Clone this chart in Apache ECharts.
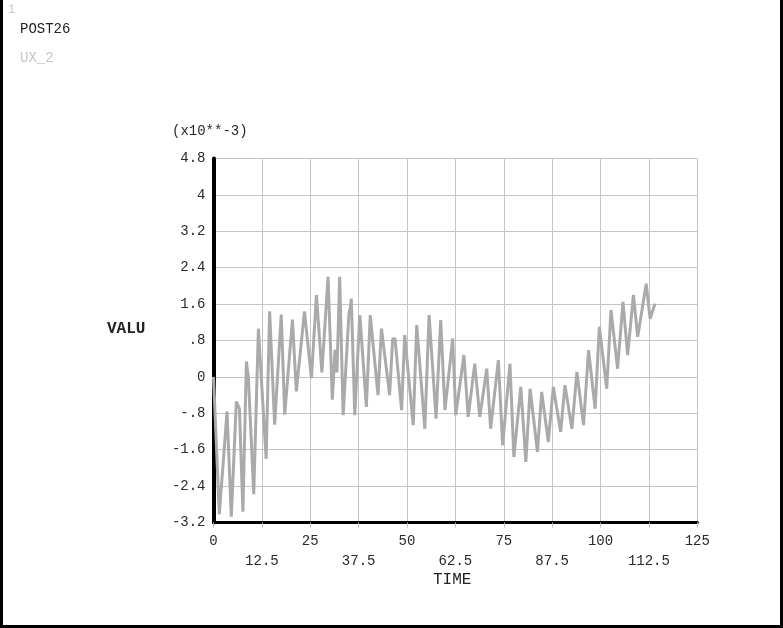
<!DOCTYPE html>
<html>
<head>
<meta charset="utf-8">
<script src="https://cdn.jsdelivr.net/npm/echarts@6/dist/echarts.min.js"></script>
<style>html,body{margin:0;padding:0;background:#fff;}#c{width:783px;height:628px;}</style>
</head>
<body>
<div id="c"></div>
<script>
// time values (x axis, TIME)
var time = [0, 0.3, 1.5, 3.5, 4.6, 5.9, 6.7, 7.6, 8.5, 9.0, 10.4, 11.6, 13.6, 14.5, 15.8, 17.5, 18.4, 20.4, 21.4, 23.5, 25.3, 26.6, 28.0, 29.6, 30.7, 31.4, 31.9, 32.6, 33.5, 35.0, 35.3, 35.6, 36.5, 37.8, 39.5, 40.5, 42.5, 43.4, 45.5, 46.3, 46.9, 48.6, 49.4, 51.6, 52.5, 54.6, 55.7, 57.5, 58.7, 59.8, 61.8, 62.6, 64.7, 65.8, 67.5, 68.8, 70.6, 71.6, 73.6, 74.7, 76.6, 77.6, 79.4, 80.7, 81.8, 83.7, 84.8, 86.5, 87.8, 89.7, 90.8, 92.6, 93.9, 95.6, 96.9, 98.6, 99.7, 101.6, 102.7, 104.4, 105.8, 107.0, 108.5, 109.6, 111.8, 112.8, 114.1];
// UX_2 values (x10**-3)
var ux2 = [0, -0.6, -3.02, -0.76, -3.07, -0.54, -0.7, -2.96, 0.34, 0.0, -2.58, 1.06, -1.8, 1.44, -1.05, 1.37, -0.83, 1.26, -0.32, 1.44, -0.03, 1.8, 0.1, 2.2, -0.5, 0.6, 0.1, 2.2, -0.84, 1.4, 1.5, 1.72, -0.84, 1.36, -0.66, 1.36, -0.4, 1.06, -0.4, 0.84, 0.84, -0.73, 0.92, -1.06, 1.14, -1.14, 1.36, -0.92, 1.25, -0.73, 0.84, -0.84, 0.48, -0.88, 0.29, -0.88, 0.18, -1.14, 0.37, -1.5, 0.29, -1.76, -0.22, -1.87, -0.26, -1.65, -0.33, -1.43, -0.22, -1.21, -0.18, -1.14, 0.11, -1.06, 0.59, -0.7, 1.1, -0.26, 1.47, 0.18, 1.65, 0.48, 1.8, 0.88, 2.05, 1.28, 1.61];
// tick labels
var xLabels = ['0', '12.5', '25', '37.5', '50', '62.5', '75', '87.5', '100', '112.5', '125'];
var yLabels = ['-3.2', '-2.4', '-1.6', '-.8', '0', '.8', '1.6', '2.4', '3.2', '4', '4.8'];

var FONT = "'Liberation Mono', 'DejaVu Sans Mono', monospace";
var chart = echarts.init(document.getElementById('c'), null, {renderer: 'canvas'});
var data = time.map(function (t, i) { return [t, ux2[i]]; });

chart.setOption({
  animation: false,
  backgroundColor: '#ffffff',
  grid: {left: 213.5, right: 85.7, top: 158.5, bottom: 105.5, containLabel: false},
  xAxis: {
    type: 'value', min: 0, max: 125, interval: 12.5,
    axisLine: {show: true, onZero: false, lineStyle: {color: '#000', width: 3}},
    axisTick: {show: true, length: 5, lineStyle: {color: '#b8b8b8', width: 1}},
    splitLine: {show: true, lineStyle: {color: '#c4c4c4', width: 1}},
    axisLabel: {
      margin: 9, fontFamily: FONT, fontSize: 14, color: '#2a2a2a', lineHeight: 20,
      showMinLabel: true, showMaxLabel: true,
      formatter: function (v) {
        var i = Math.round(v / 12.5);
        return (i % 2 === 1) ? '\n' + xLabels[i] : xLabels[i];
      }
    }
  },
  yAxis: {
    type: 'value', min: -3.2, max: 4.8, interval: 0.8,
    axisLine: {show: true, onZero: false, lineStyle: {color: '#000', width: 4}},
    axisTick: {show: false},
    splitLine: {show: true, lineStyle: {color: '#c4c4c4', width: 1}},
    axisLabel: {
      margin: 8, fontFamily: FONT, fontSize: 14, color: '#2a2a2a',
      showMinLabel: true, showMaxLabel: true,
      formatter: function (v) { return yLabels[Math.round((v + 3.2) / 0.8)]; }
    }
  },
  series: [{
    type: 'line', data: data, showSymbol: false, symbol: 'none',
    lineStyle: {color: '#aaaaaa', width: 3}, z: 1
  }],
  graphic: [
    {type: 'rect', shape: {x: 0, y: 0, width: 3, height: 628}, style: {fill: '#000'}},
    {type: 'rect', shape: {x: 780, y: 0, width: 3, height: 628}, style: {fill: '#000'}},
    {type: 'rect', shape: {x: 0, y: 625, width: 783, height: 3}, style: {fill: '#000'}},
    {type: 'text', left: 8, top: 4, style: {text: '1', font: "12px " + FONT, fill: '#c8c8c8'}},
    {type: 'text', left: 20, top: 22, style: {text: 'POST26', font: "14px " + FONT, fill: '#222'}},
    {type: 'text', left: 20, top: 51, style: {text: 'UX_2', font: "14px " + FONT, fill: '#c4c4c4'}},
    {type: 'text', left: 172, top: 124, style: {text: '(x10**-3)', font: "14px " + FONT, fill: '#2a2a2a'}},
    {type: 'text', left: 107, top: 321, style: {text: 'VALU', font: "bold 16px " + FONT, fill: '#222'}},
    {type: 'text', left: 433, top: 572, style: {text: 'TIME', font: "16px " + FONT, fill: '#222'}}
  ]
});
</script>
</body>
</html>
